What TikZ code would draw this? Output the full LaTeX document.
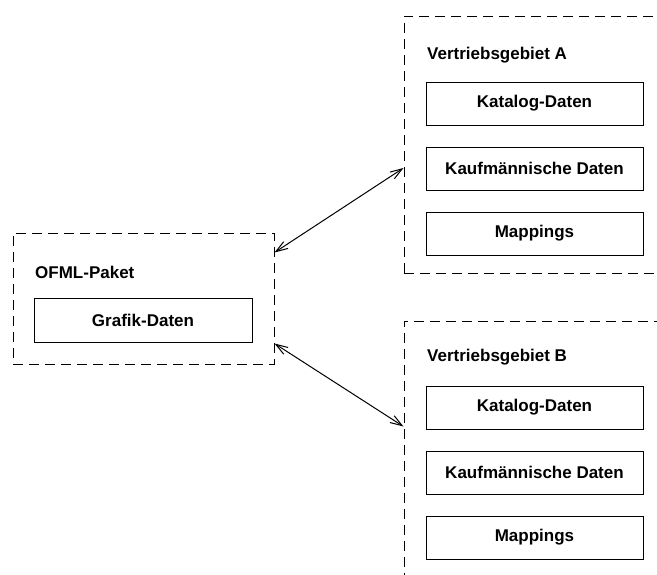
\documentclass[tikz,border=0pt]{standalone}
\usepackage{fontspec}
\setmainfont{Liberation Sans}
\usetikzlibrary{arrows.meta}
\begin{document}
\begin{tikzpicture}[x=1pt,y=-1pt,
  cont/.style={draw,line width=1pt,dash pattern=on 10pt off 6pt,rectangle,inner sep=0pt,minimum width=#1},
  itembox/.style={draw,line width=1pt,rectangle,inner sep=0pt,minimum width=217pt,minimum height=43pt,font=\fontsize{17}{20}\bfseries},
  lbl/.style={anchor=west,inner sep=0pt,font=\fontsize{17}{20}\bfseries},
  conn/.style={line width=1pt,{Straight Barb[length=12pt,width=8pt]}-{Straight Barb[length=12pt,width=8pt]}}]
\useasboundingbox (0,0) rectangle (657,574);
\clip (0,0) rectangle (657,574);
% containers
\node[cont=261pt,minimum height=131pt] (P) at (143.5,298.5) {};
\node[cont=300pt,minimum height=257pt] (A) at (554,144.5) {};
\node[cont=300pt,minimum height=300pt] (B) at (554,471) {};
% labels
\node[lbl] (Pl) at (35,272) {OFML-Paket};
\node[lbl] (Al) at (427,55) {Vertriebsgebiet A};
\node[lbl] (Bl) at (427,357) {Vertriebsgebiet B};
% items
\node[itembox,minimum width=218pt,minimum height=44pt] (G) at (143,320) {Grafik-Daten};
\node[itembox] (AK) at (534.5,103.5) {Katalog-Daten};
\node[itembox] (AF) at (534.5,168.5) {Kaufmännische Daten};
\node[itembox] (AM) at (534.5,233.5) {Mappings};
\node[itembox] (BK) at (534.5,407.5) {Katalog-Daten};
\node[itembox] (BF) at (534.5,472.5) {Kaufmännische Daten};
\node[itembox] (BM) at (534.5,537.5) {Mappings};
% connectors
\coordinate (p1) at ([yshift=-20pt]P.north east);
\coordinate (p2) at ([yshift=21pt]P.south east);
\coordinate (a1) at ([yshift=-23.5pt]A.west);
\coordinate (b1) at ([yshift=-106pt]B.north west);
\draw[conn] (p1) -- (a1);
\draw[conn] (p2) -- (b1);
\end{tikzpicture}
\end{document}
